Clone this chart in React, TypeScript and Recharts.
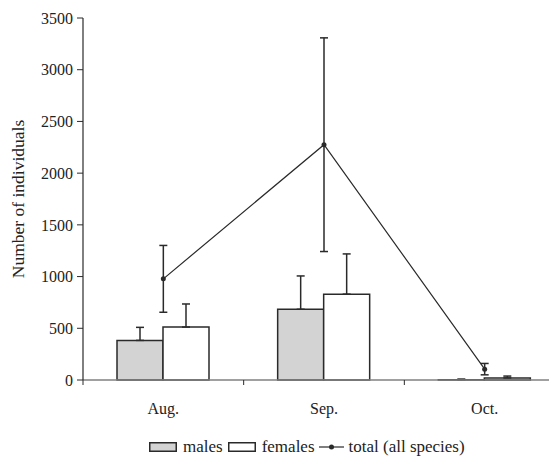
import React from 'react';
import { ComposedChart, Bar, Line, XAxis, YAxis, ErrorBar, Legend } from 'recharts';

const months = ['Aug.', 'Sep.', 'Oct.'];
const males = [383, 684, 3];
const malesErr = [126, 322, 6];
const females = [512, 830, 20];
const femalesErr = [223, 389, 18];
const total = [978, 2275, 105];
const totalErr = [323, 1033, 55];
const yTicks = [0, 500, 1000, 1500, 2000, 2500, 3000, 3500];

const data = months.map((m, i) => ({
  month: m,
  males: males[i],
  malesErr: [0, malesErr[i]],
  females: females[i],
  femalesErr: [0, femalesErr[i]],
  total: total[i],
  totalErr: totalErr[i],
}));

const FONT = '"Liberation Serif", "Times New Roman", serif';
const TEXT = '#222';
const DARK = '#2a2a2a';
const CHART_W = 560;
const CHART_H = 451;
const MARGIN = { top: 10, right: 3, left: 0, bottom: 0 };
const Y_W = 75;
const X_TICK_SIZE = 5;
const X_TICK_MARGIN = 18;

const XTick = (props: any) => {
  const { x, y, payload } = props;
  const plotW = CHART_W - MARGIN.left - MARGIN.right - Y_W;
  const half = payload && typeof payload.offset === 'number' && payload.offset > 0 ? payload.offset : plotW / months.length / 2;
  const axisY = y - X_TICK_SIZE - X_TICK_MARGIN;
  return (
    <g>
      <line x1={x - half} y1={axisY} x2={x - half} y2={axisY + X_TICK_SIZE} stroke={DARK} strokeWidth={1} />
      <text x={x} y={y} dy="0.71em" textAnchor="middle" fontFamily={FONT} fontSize={16} fill={TEXT}>
        {payload.value}
      </text>
    </g>
  );
};

const LegendContent = () => (
  <div
    style={{
      display: 'flex',
      alignItems: 'center',
      paddingLeft: 141,
      paddingTop: 6,
      fontFamily: FONT,
      fontSize: 17,
      lineHeight: '20px',
      color: TEXT,
      whiteSpace: 'nowrap',
    }}
  >
    <svg width={28} height={10} style={{ marginRight: 6 }}>
      <rect x={0.75} y={0.75} width={26.5} height={8.5} fill="#d3d3d3" stroke={DARK} strokeWidth={1.5} />
    </svg>
    <span style={{ marginRight: 5 }}>males</span>
    <svg width={28} height={10} style={{ marginRight: 6 }}>
      <rect x={0.75} y={0.75} width={26.5} height={8.5} fill="#fff" stroke={DARK} strokeWidth={1.5} />
    </svg>
    <span style={{ marginRight: 4 }}>females</span>
    <svg width={25} height={10} style={{ marginRight: 5 }}>
      <line x1={0} y1={5} x2={25} y2={5} stroke={DARK} strokeWidth={1.2} />
      <circle cx={12.5} cy={5} r={2.5} fill={DARK} />
    </svg>
    <span>total (all species)</span>
  </div>
);

export default function App() {
  return (
    <div style={{ width: 549, height: CHART_H, overflow: 'hidden' }}>
      <ComposedChart width={CHART_W} height={CHART_H} data={data} margin={MARGIN} barGap={0}>
        <XAxis
          dataKey="month"
          axisLine={{ stroke: '#808080', strokeWidth: 1.5 }}
          tickLine={false}
          tickSize={X_TICK_SIZE}
          tickMargin={X_TICK_MARGIN}
          height={51}
          tick={<XTick />}
          interval={0}
        />
        <YAxis
          width={Y_W}
          domain={[0, 3500]}
          ticks={yTicks}
          interval={0}
          axisLine={{ stroke: DARK, strokeWidth: 1.2 }}
          tickLine={{ stroke: DARK, strokeWidth: 1 }}
          tickSize={6}
          tickMargin={4}
          tick={{ fontFamily: FONT, fontSize: 16, fill: TEXT }}
          label={{
            value: 'Number of individuals',
            angle: -90,
            position: 'insideLeft',
            offset: 10,
            style: { textAnchor: 'middle', fontFamily: FONT, fontSize: 17.5, fill: TEXT },
          }}
        />
        <Legend verticalAlign="bottom" align="left" height={28} content={<LegendContent />} />
        <Bar dataKey="males" fill="#d3d3d3" stroke={DARK} strokeWidth={1.5} barSize={46} isAnimationActive={false}>
          <ErrorBar dataKey="malesErr" width={4} stroke={DARK} strokeWidth={1.5} direction="y" />
        </Bar>
        <Bar dataKey="females" fill="#ffffff" stroke={DARK} strokeWidth={1.5} barSize={46} isAnimationActive={false}>
          <ErrorBar dataKey="femalesErr" width={4} stroke={DARK} strokeWidth={1.5} direction="y" />
        </Bar>
        <Line
          dataKey="total"
          stroke={DARK}
          strokeWidth={1.2}
          dot={{ r: 2.5, fill: DARK, stroke: DARK, strokeWidth: 0 }}
          activeDot={false}
          isAnimationActive={false}
        >
          <ErrorBar dataKey="totalErr" width={4} stroke={DARK} strokeWidth={1.5} direction="y" />
        </Line>
      </ComposedChart>
    </div>
  );
}
